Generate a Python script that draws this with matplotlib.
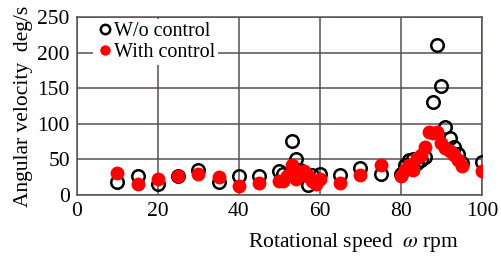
import matplotlib
matplotlib.use("Agg")
import matplotlib.pyplot as plt

plt.rcParams['font.family'] = ['Liberation Serif', 'DejaVu Serif']
plt.rcParams['mathtext.fontset'] = 'stix'

wo_x = [10, 15, 20, 25, 30, 35, 40, 45, 50, 51, 53, 54, 55, 57, 58, 60, 65, 70, 75,
        80, 81, 82, 83, 84, 85, 86, 88, 89, 90, 91, 92, 93, 94, 95, 100]
wo_y = [18, 27, 16, 26, 35, 18, 27, 27, 34, 30, 76, 51, 35, 14, 28, 29, 28, 38, 30,
        30, 42, 49, 50, 45, 49, 54, 130, 211, 153, 96, 80, 68, 58, 45, 47]

wc_x = [10, 15, 20, 25, 30, 35, 40, 45, 50, 51, 52, 53, 54, 55, 56, 57, 58, 59, 60,
        65, 70, 75, 80, 81, 82, 83, 84, 85, 86, 87, 88, 89, 90, 91, 92, 93, 94, 95, 100]
wc_y = [31, 15, 23, 26, 30, 25, 13, 17, 20, 19, 27, 42, 22, 31, 33, 26, 19, 16, 23,
        17, 28, 42, 27, 35, 42, 35, 52, 56, 68, 88, 87, 88, 73, 66, 62, 56, 49, 41, 33]

xticks = [0, 20, 40, 60, 80, 100]
yticks = [0, 50, 100, 150, 200, 250]

fig = plt.figure(figsize=(5.02, 2.60), dpi=100)
ax = fig.add_axes([0.153, 0.25, 0.807, 0.685])

ax.plot(wo_x, wo_y, linestyle='none', marker='o', markersize=9,
        markerfacecolor='none', markeredgecolor='black', markeredgewidth=1.8,
        label='W/o control', zorder=3)
ax.plot(wc_x, wc_y, linestyle='none', marker='o', markersize=10,
        markerfacecolor='#ff0000', markeredgecolor='#ff0000', markeredgewidth=0,
        label='With control', zorder=4)

ax.set_xlim(0, 100)
ax.set_ylim(0, 250)
ax.set_xticks(xticks)
ax.set_yticks(yticks)
ax.tick_params(length=0, labelsize=15.5, pad=5)
ax.grid(True, color='#5a5050', linewidth=1.1)
ax.set_axisbelow(True)
for s in ax.spines.values():
    s.set_color('#5a5050')
    s.set_linewidth(1.1)

ax.set_ylabel('Angular velocity  deg/s', fontsize=15.5, labelpad=3)
fig.text(0.705, 0.025, r'Rotational speed  $\omega$ rpm', fontsize=15.5,
         ha='center', va='bottom')

leg = ax.legend(loc='upper left', bbox_to_anchor=(0.04, 0.99), frameon=True,
                fontsize=14.5, handletextpad=0.0, handlelength=0.9,
                borderpad=0.15, labelspacing=0.1, borderaxespad=0.0,
                markerscale=0.75)
leg.get_frame().set_edgecolor('none')
leg.get_frame().set_facecolor('white')
leg.get_frame().set_alpha(1.0)

fig.savefig('out.png', dpi=100)
